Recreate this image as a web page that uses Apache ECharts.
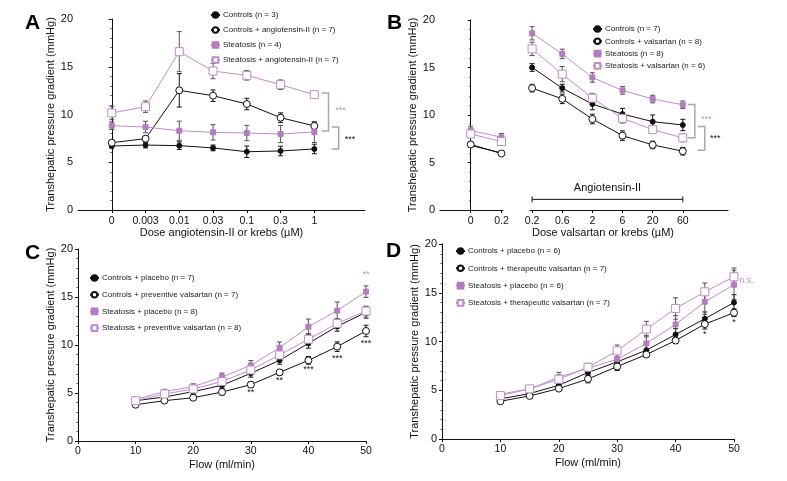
<!DOCTYPE html>
<html><head><meta charset="utf-8">
<script src="https://cdn.jsdelivr.net/npm/echarts@6/dist/echarts.min.js"></script>
<style>html,body{margin:0;padding:0;background:#fff}#c{width:787px;height:481px}</style>
</head><body><div id="c"></div>
<script>
// ---------- Panel A ----------
const aLabels = ['0','0.003','0.01','0.03','0.1','0.3','1'];
const aX = [0,1,2,3,4,5,6];
const aCtrl = [6.7,6.8,6.74,6.5,6.1,6.18,6.39];
const aCtrlErr = [0.2,0.3,0.4,0.3,0.6,0.5,0.5];
const aCtrlAng = [7.05,7.47,12.53,11.97,11.1,9.67,8.8];
const aCtrlAngErr = [0.2,0.2,1.75,0.6,0.6,0.5,0.4];
const aSte = [8.83,8.69,8.3,8.13,8.06,7.96,8.17];
const aSteErr = [0.4,0.6,1.0,0.8,0.8,0.9,1.1];
const aSteAng = [10.16,10.82,16.58,14.55,14.1,13.12,12.08];
const aSteAngErr = [0.7,0.6,2.1,0.8,0.5,0.5,0.3];
const aNames = ['Controls (n = 3)','Controls + angiotensin-II (n = 7)','Steatosis (n = 4)','Steatosis + angiotensin-II (n = 7)'];
const aBrackets = [[6.42,12.25,8.27,'p'],[6.72,8.69,6.39,'k']];
const aStars = [[6.62,10.4,'***','p'],[6.9,7.4,'***','k']];

// ---------- Panel B ----------
const bLabelsL = ['0','0.2'];
const bXL = [0,1];
const bLabelsR = ['0.2','0.6','2','6','20','60'];
const bXR = [0,1,2,3,4,5];
const bCtrlL = [6.8,6.0];       const bCtrlErrL = [0.2,0.2];
const bCtrlValL = [6.9,5.95];   const bCtrlValErrL = [0.2,0.2];
const bSteL = [8.36,7.66];      const bSteErrL = [0.4,0.4];
const bSteValL = [8.0,7.2];     const bSteValErrL = [0.3,0.3];
const bCtrl = [15.0,12.83,11.15,10.1,9.3,8.95];
const bCtrlErr = [0.4,0.4,0.6,0.6,0.7,0.6];
const bCtrlVal = [12.83,11.7,9.58,7.83,6.85,6.19];
const bCtrlValErr = [0.4,0.5,0.5,0.5,0.4,0.4];
const bSte = [18.6,16.43,13.95,12.59,11.68,11.08];
const bSteErr = [0.7,0.5,0.5,0.4,0.4,0.4];
const bSteVal = [16.96,14.3,11.78,9.65,8.46,7.59];
const bSteValErr = [0.7,0.8,0.5,0.5,0.3,0.4];
const bNames = ['Controls (n = 7)','Controls + valsartan (n = 8)','Steatosis (n = 8)','Steatosis + valsartan (n = 6)'];
const bBrackets = [[5.4,11.1,7.6,'p'],[5.73,8.8,6.3,'k']];
const bStars = [[5.6,9.5,'***','p'],[5.9,7.48,'***','k']];
const bAngBar = [[0,5,1.12,'Angiotensin-II']];

// ---------- Panel C ----------
const flowX = [10,15,20,25,30,35,40,45,50];
const cCtrl = [4.2,4.58,5.14,5.8,7.05,8.4,10.17,11.94,13.4];
const cCtrlErr = [0.2,0.2,0.3,0.3,0.4,0.4,0.5,0.5,0.6];
const cCtrlVal = [3.78,4.2,4.51,5.1,5.87,7.15,8.4,9.83,11.46];
const cCtrlValErr = [0.2,0.2,0.2,0.3,0.3,0.3,0.4,0.5,0.6];
const cSte = [4.34,5.14,5.66,6.67,7.88,9.72,11.9,13.58,15.56];
const cSteErr = [0.2,0.2,0.3,0.4,0.5,0.6,0.8,0.9,0.6];
const cSteVal = [4.2,4.9,5.42,6.2,7.4,8.96,10.6,12.25,13.54];
const cSteValErr = [0.2,0.2,0.2,0.3,0.4,0.5,0.6,0.5,0.5];
const cNames = ['Controls + placebo (n = 7)','Controls + preventive valsartan (n = 7)','Steatosis + placebo (n = 8)','Steatosis + preventive valsartan (n = 8)'];
const cStars = [[30,5.07,'**','k'],[35,6.25,'**','k'],[40,7.43,'***','k'],[45,8.6,'***','k'],[50,10.14,'***','k'],[50,17.3,'**','p']];

// ---------- Panel D ----------
const dCtrl = [4.11,4.66,5.51,6.82,7.91,9.11,10.72,12.33,14.0];
const dCtrlErr = [0.2,0.2,0.3,0.3,0.4,0.5,0.6,0.7,0.8];
const dCtrlVal = [3.87,4.42,5.17,6.16,7.43,8.66,10.1,11.78,12.95];
const dCtrlValErr = [0.2,0.2,0.2,0.4,0.4,0.3,0.3,0.5,0.4];
const dSte = [4.6,5.14,6.34,7.26,8.18,9.8,11.75,14.08,15.82];
const dSteErr = [0.2,0.2,0.5,0.4,0.5,0.8,0.9,1.3,1.5];
const dSteVal = [4.45,5.14,6.13,7.36,9.04,11.27,13.39,15.1,16.64];
const dSteValErr = [0.2,0.2,0.2,0.4,0.6,0.8,1.1,0.9,0.9];
const dNames = ['Controls + placebo (n = 6)','Controls + therapeutic valsartan (n = 7)','Steatosis + placebo (n = 6)','Steatosis + therapeutic valsartan (n = 7)'];
const dStars = [[45,10.7,'*','k'],[50,11.9,'*','k'],[50.9,16.3,'n.s.','p']];

// ---------- styles ----------
const BLACK = '#111';
const PURP = '#c08bcb';
const PURP_FILL = '#b47dc0';
const GRAY = '#a8a8a8';
const FONT = 'Liberation Sans, Arial, sans-serif';
const STY = [
  {symbol:'circle', size:5, fill:BLACK, stroke:BLACK, line:BLACK, err:BLACK},
  {symbol:'circle', size:7, fill:'#fff', stroke:BLACK, line:BLACK, err:BLACK},
  {symbol:'rect', size:5, fill:PURP_FILL, stroke:PURP_FILL, line:PURP, err:'#555'},
  {symbol:'rect', size:8, fill:'#fff', stroke:PURP, line:PURP, err:'#555'}
];
const series = [];
function addSeries(name, xs, ys, es, g, k){
  const s = STY[k];
  series.push({
    type:'custom', xAxisIndex:g, yAxisIndex:g, z:1, silent:true,
    data: xs.map((x,i)=>[x, ys[i], es[i]]),
    renderItem:(p,api)=>{
      const x=api.value(0), y=api.value(1), e=api.value(2);
      const t=api.coord([x,y+e]), b=api.coord([x,y-e]);
      const w=2.5, st={stroke:s.err, lineWidth:1};
      return {type:'group', children:[
        {type:'line', shape:{x1:t[0],y1:t[1],x2:b[0],y2:b[1]}, style:st},
        {type:'line', shape:{x1:t[0]-w,y1:t[1],x2:t[0]+w,y2:t[1]}, style:st},
        {type:'line', shape:{x1:b[0]-w,y1:b[1],x2:b[0]+w,y2:b[1]}, style:st}
      ]};
    }
  });
  series.push({
    type:'line', name, xAxisIndex:g, yAxisIndex:g, z:3+k,
    data: xs.map((x,i)=>[x, ys[i]]),
    symbol:s.symbol, symbolSize:s.size, showAllSymbol:true,
    itemStyle:{color:s.fill, borderColor:s.stroke, borderWidth:1},
    lineStyle:{color:s.line, width:1},
    emphasis:{disabled:true}, animation:false
  });
}
function addBrackets(list, g){
  series.push({
    type:'custom', xAxisIndex:g, yAxisIndex:g, z:2, silent:true,
    data: list.map(b=>[b[0],b[1],b[2]]),
    renderItem:(p,api)=>{
      const a=api.coord([api.value(0),api.value(1)]), b=api.coord([api.value(0),api.value(2)]);
      return {type:'polyline', shape:{points:[[a[0]-7,a[1]],a,b,[b[0]-7,b[1]]]}, style:{stroke:GRAY, lineWidth:1.5, fill:null}};
    }
  });
}
function addStars(list, g, align){
  series.push({
    type:'custom', xAxisIndex:g, yAxisIndex:g, z:2, silent:true,
    data: list.map(s=>[s[0],s[1],s[2],s[3]]),
    renderItem:(p,api)=>{
      const it=list[p.dataIndex];
      const c=api.coord([it[0],it[1]]);
      return {type:'text', x:c[0], y:c[1], style:{text:it[2], fill: it[3]==='p'?PURP:BLACK, font:'9px '+FONT, align:align, verticalAlign:'middle'}};
    }
  });
}

// A
[aCtrl,aCtrlAng,aSte,aSteAng].forEach((ys,k)=>addSeries(aNames[k], aX, ys, [aCtrlErr,aCtrlAngErr,aSteErr,aSteAngErr][k], 0, k));
addBrackets(aBrackets, 0); addStars(aStars, 0, 'left');
// B left
[bCtrlL,bCtrlValL,bSteL,bSteValL].forEach((ys,k)=>addSeries(bNames[k], bXL, ys, [bCtrlErrL,bCtrlValErrL,bSteErrL,bSteValErrL][k], 1, k));
// B right
[bCtrl,bCtrlVal,bSte,bSteVal].forEach((ys,k)=>addSeries(bNames[k], bXR, ys, [bCtrlErr,bCtrlValErr,bSteErr,bSteValErr][k], 2, k));
addBrackets(bBrackets, 2); addStars(bStars, 2, 'left');
series.push({
  type:'custom', xAxisIndex:2, yAxisIndex:2, z:2, silent:true,
  data: bAngBar.map(b=>[b[0],b[1],b[2]]),
  renderItem:(p,api)=>{
    const a=api.coord([api.value(0),api.value(2)]), b=api.coord([api.value(1),api.value(2)]);
    const st={stroke:BLACK, lineWidth:1};
    return {type:'group', children:[
      {type:'line', shape:{x1:a[0],y1:a[1],x2:b[0],y2:b[1]}, style:st},
      {type:'line', shape:{x1:a[0],y1:a[1]-3,x2:a[0],y2:a[1]+3}, style:st},
      {type:'line', shape:{x1:b[0],y1:b[1]-3,x2:b[0],y2:b[1]+3}, style:st},
      {type:'text', x:(a[0]+b[0])/2, y:a[1]-6, style:{text:bAngBar[0][3], fill:BLACK, font:'11px '+FONT, align:'center', verticalAlign:'bottom'}}
    ]};
  }
});
// C
[cCtrl,cCtrlVal,cSte,cSteVal].forEach((ys,k)=>addSeries(cNames[k], flowX, ys, [cCtrlErr,cCtrlValErr,cSteErr,cSteValErr][k], 3, k));
addStars(cStars, 3, 'center');
// D
[dCtrl,dCtrlVal,dSte,dSteVal].forEach((ys,k)=>addSeries(dNames[k], flowX, ys, [dCtrlErr,dCtrlValErr,dSteErr,dSteValErr][k], 4, k));
addStars(dStars.slice(0,2), 4, 'center'); addStars(dStars.slice(2), 4, 'left');

const axisCommon = {
  axisLine:{show:true, lineStyle:{color:BLACK, width:1}},
  axisTick:{show:true, length:3, lineStyle:{color:BLACK}},
  splitLine:{show:false},
  axisLabel:{color:'#111', fontSize:11, fontFamily:FONT, margin:5}
};
function yAxis(g, showName, gap){
  return Object.assign({}, axisCommon, {
    type:'value', gridIndex:g, min:0, max:20, interval:5,
    show: true,
    axisLabel: Object.assign({}, axisCommon.axisLabel, {show: showName}),
    axisTick:{show:showName, length:3, lineStyle:{color:BLACK}},
    minorTick:{show:showName, splitNumber:5, length:1.5, lineStyle:{color:'#444'}},
    name: showName ? 'Transhepatic pressure gradient (mmHg)' : '',
    nameLocation:'middle', nameGap:gap, nameRotate:90,
    nameTextStyle:{fontSize:11, fontFamily:FONT, color:'#111'}
  });
}
function catX(g, min, max, labels, name, gap){
  return Object.assign({}, axisCommon, {
    type:'value', gridIndex:g, min, max, interval:1,
    axisTick:{show:true, length:3, customValues: labels.map((l,i)=>i), lineStyle:{color:BLACK}},
    axisLabel:Object.assign({}, axisCommon.axisLabel, {fontSize:10.5, margin:6, customValues: labels.map((l,i)=>i), formatter:v=>labels[Math.round(v)]}),
    name, nameLocation:'middle', nameGap:gap,
    nameTextStyle:{fontSize:11, fontFamily:FONT, color:'#111'}
  });
}
function flowAxis(g){
  return Object.assign({}, axisCommon, {
    type:'value', gridIndex:g, min:0, max:50, interval:10,
    axisLabel:Object.assign({}, axisCommon.axisLabel, {fontSize:10.5}),
    name:'Flow (ml/min)', nameLocation:'middle', nameGap:18,
    nameTextStyle:{fontSize:11, fontFamily:FONT, color:'#111'}
  });
}
function legend(names, left, top, gap){
  return {data:names, left, top, orient:'vertical', padding:0, itemWidth:9, itemHeight:7, itemGap:gap,
    selectedMode:false, textStyle:{fontSize:8, fontFamily:FONT, color:'#222', padding:[0,0,0,-2]}};
}

const option = {
  animation:false,
  grid:[
    {left:78, top:19, width:287, height:191},
    {left:440, top:20, width:63, height:190},
    {left:530, top:20, width:198, height:190},
    {left:78, top:249, width:288, height:192},
    {left:442, top:244, width:292, height:195}
  ],
  xAxis:[
    catX(0, -1, 7.5, aLabels, 'Dose angiotensin-II or krebs (µM)', 17),
    catX(1, -1, 1.05, bLabelsL, '', 17),
    catX(2, -0.07, 6.5, bLabelsR, '', 17),
    flowAxis(3), flowAxis(4)
  ],
  yAxis:[ yAxis(0,true,21), yAxis(1,true,21), Object.assign(yAxis(2,false,20),{axisLine:{show:false}}), yAxis(3,true,21), yAxis(4,true,21) ],
  legend:[
    legend(aNames, 210, 11, 7),
    legend(bNames, 592, 25, 4.3),
    legend(cNames, 89, 274, 8.7),
    legend(dNames, 455, 247, 9.3)
  ],
  graphic:[
    {type:'text', left:25, top:13, style:{text:'A', font:'bold 21px '+FONT, fill:'#000'}},
    {type:'text', left:387, top:13, style:{text:'B', font:'bold 21px '+FONT, fill:'#000'}},
    {type:'text', left:25, top:243, style:{text:'C', font:'bold 21px '+FONT, fill:'#000'}},
    {type:'text', left:386, top:241, style:{text:'D', font:'bold 21px '+FONT, fill:'#000'}},
    {type:'text', x:603, y:227, style:{text:'Dose valsartan or krebs (µM)', font:'11px '+FONT, fill:'#111', align:'center', verticalAlign:'top'}}
  ],
  series
};
const chart = echarts.init(document.getElementById('c'), null, {renderer:'canvas'});
chart.setOption(option);
</script></body></html>
